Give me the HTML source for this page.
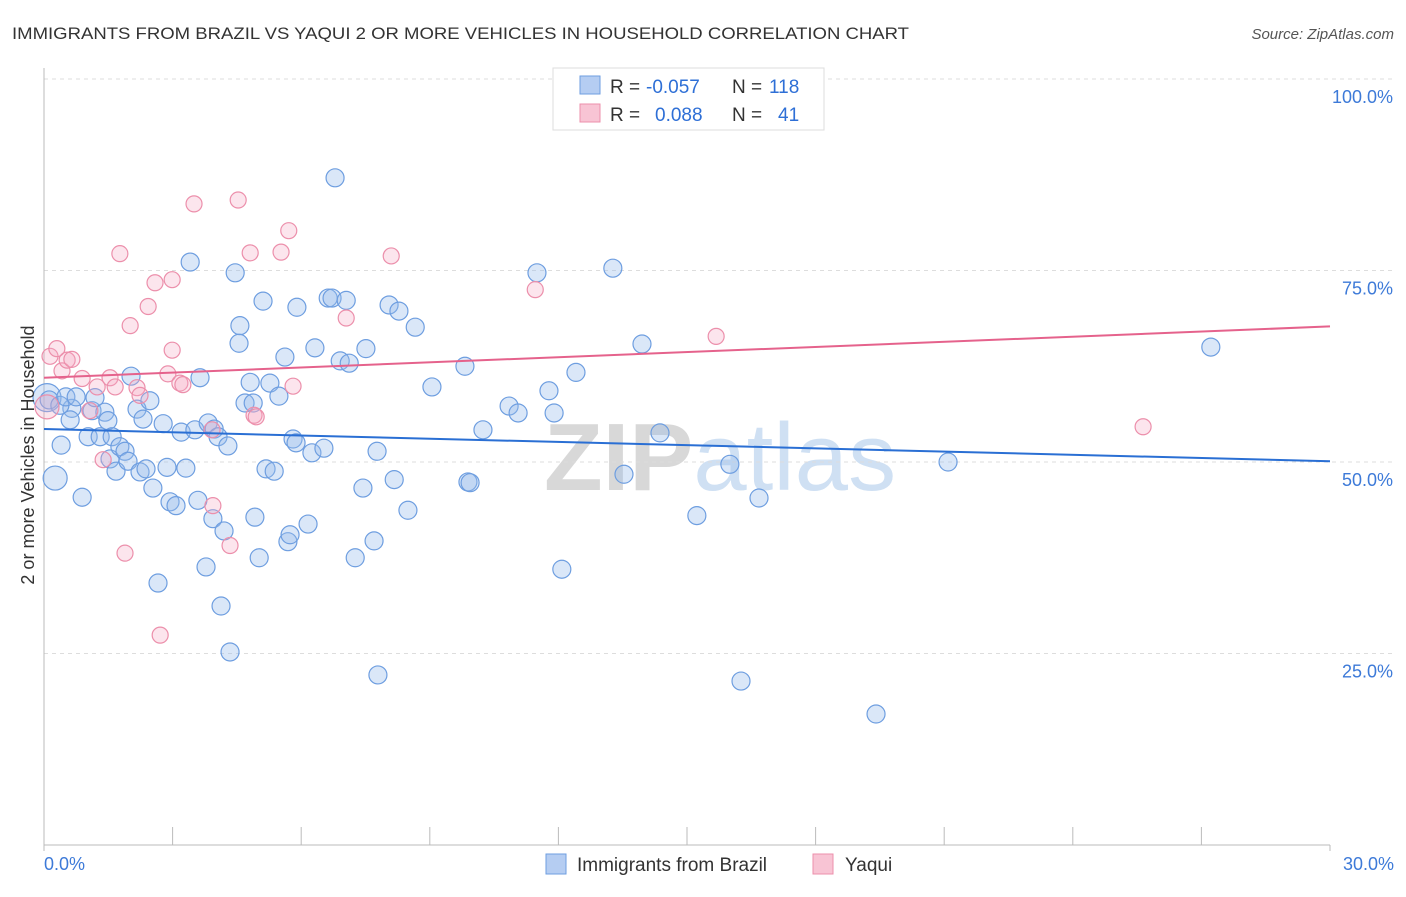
<!DOCTYPE html>
<html><head><meta charset="utf-8"><style>
body{margin:0;background:#fff;font-family:"Liberation Sans",sans-serif;}
svg text{font-family:"Liberation Sans",sans-serif;}
</style></head><body>
<svg id="c" width="1406" height="892">
<text x="12" y="39" font-size="17" fill="#333" textLength="897" lengthAdjust="spacingAndGlyphs">IMMIGRANTS FROM BRAZIL VS YAQUI 2 OR MORE VEHICLES IN HOUSEHOLD CORRELATION CHART</text>
<text x="1394" y="39" font-size="15" fill="#555" font-style="italic" text-anchor="end">Source: ZipAtlas.com</text>
<text x="720" y="490" font-size="96" fill="#ddd" text-anchor="middle" font-family="Liberation Serif" font-weight="bold"><tspan fill="#d8d8d8">ZIP</tspan><tspan fill="#cfe0f3" font-family="Liberation Sans" font-weight="normal">atlas</tspan></text>
<g id="grid"></g><g id="pts"></g><g id="lines"></g>
<text transform="translate(34,455) rotate(-90)" font-size="18" fill="#333" text-anchor="middle">2 or more Vehicles in Household</text>
<g>
<rect x="553" y="68" width="271" height="62" fill="#fff" stroke="#ddd"/>
<rect x="580" y="76" width="20" height="18" fill="#b5cdf2" stroke="#6e9ee0"/>
<rect x="580" y="104" width="20" height="18" fill="#f8c4d4" stroke="#ec8fab"/>
<text x="610" y="93" font-size="19" fill="#333">R =</text>
<text x="646" y="93" font-size="19" fill="#2e6fd6">-0.057</text>
<text x="732" y="93" font-size="19" fill="#333">N =</text>
<text x="769" y="93" font-size="19" fill="#2e6fd6">118</text>
<text x="610" y="121" font-size="19" fill="#333">R =</text>
<text x="655" y="121" font-size="19" fill="#2e6fd6">0.088</text>
<text x="732" y="121" font-size="19" fill="#333">N =</text>
<text x="778" y="121" font-size="19" fill="#2e6fd6">41</text>
</g>
<g>
<rect x="546" y="854" width="20" height="20" fill="#b5cdf2" stroke="#6e9ee0"/>
<text x="577" y="871" font-size="19" fill="#333">Immigrants from Brazil</text>
<rect x="813" y="854" width="20" height="20" fill="#f8c4d4" stroke="#ec8fab"/>
<text x="845" y="871" font-size="19" fill="#333">Yaqui</text>
</g>
</svg>
<script>
const yTicks=[25,50,75,100];
const xTickLabels=["0.0%","30.0%"];
const blueX=[0.07,0.26,0.40,0.65,0.61,0.89,1.03,1.12,1.19,1.31,1.42,1.49,1.54,1.59,1.68,1.77,1.89,1.96,2.03,2.17,2.24,2.31,2.38,2.47,2.54,2.66,2.78,2.87,2.94,3.08,3.20,3.31,3.41,3.52,3.59,3.64,3.78,3.83,3.94,3.97,4.06,4.13,4.20,4.29,4.34,4.46,4.57,4.55,4.69,4.81,4.88,4.92,5.02,5.11,5.18,5.27,5.37,5.48,5.62,5.69,5.74,5.81,5.88,5.90,6.16,6.25,6.32,6.53,6.63,6.72,6.79,6.91,7.05,7.12,7.26,7.44,7.51,7.70,7.77,7.79,8.05,8.17,8.28,8.49,8.66,9.05,9.82,9.89,9.94,10.24,10.85,11.06,11.50,11.78,11.90,12.08,12.41,13.27,13.53,13.95,14.37,15.23,16.00,16.26,16.68,19.41,21.09,27.22,0.12,0.37,0.51,0.75];
const blueY=[58.4,47.9,52.2,57.0,55.5,45.4,53.3,56.7,58.4,53.3,56.5,55.4,50.4,53.3,48.8,52.0,51.4,50.1,61.2,56.9,48.7,55.6,49.1,58.0,46.6,34.2,55.0,49.3,44.8,44.3,53.9,49.2,76.1,54.2,45.0,61.0,36.3,55.1,42.6,54.3,53.3,31.2,41.0,52.1,25.2,74.7,67.8,65.5,57.7,60.4,57.7,42.8,37.5,71.0,49.1,60.3,48.8,58.6,63.7,39.6,40.5,53.0,52.5,70.2,41.9,51.2,64.9,51.8,71.4,71.4,87.1,63.2,71.1,62.9,37.5,46.6,64.8,39.7,51.4,22.2,70.5,47.7,69.7,43.7,67.6,59.8,62.5,47.4,47.3,54.2,57.3,56.4,74.7,59.3,56.4,36.0,61.7,75.3,48.4,65.4,53.8,43.0,49.7,21.4,45.3,17.1,50.0,65.0,58.1,57.4,58.5,58.5];
const pinkX=[0.07,0.14,0.30,0.42,0.54,0.65,0.89,1.07,1.24,1.38,1.54,1.66,1.77,1.89,2.01,2.17,2.24,2.43,2.59,2.71,2.89,2.99,2.99,3.17,3.24,3.50,3.92,3.94,4.34,4.53,4.81,4.90,4.95,5.53,5.71,5.81,7.05,8.10,11.46,15.68,25.64];
const pinkY=[57.2,63.8,64.8,61.9,63.3,63.4,60.9,56.7,59.8,50.3,61.0,59.8,77.2,38.1,67.8,59.7,58.7,70.3,73.4,27.4,61.5,73.8,64.6,60.3,60.1,83.7,54.2,44.3,39.1,84.2,77.3,56.1,55.9,77.4,80.2,59.9,68.8,76.9,72.5,66.4,54.6];
const blueLine=[54.3,50.1];
const pinkLine=[61.0,67.7];
const X0=44,X1=1330,Y0=845,Y100=79;
const xs=v=>X0+v/30*(X1-X0), ys=v=>Y0-v/100*(Y0-Y100);
const NS="http://www.w3.org/2000/svg";
function mk(t,a,p){const e=document.createElementNS(NS,t);for(const k in a)e.setAttribute(k,a[k]);p.appendChild(e);return e;}
const g=document.getElementById('grid');
yTicks.forEach(t=>{
 const l=mk('line',{x1:X0,x2:1394,y1:ys(t),y2:ys(t),stroke:'#ddd','stroke-dasharray':'4,4'},g);
 
 
 const tx=mk('text',{x:1393,y:ys(t)+24,'font-size':18,fill:'#3d7ad8','text-anchor':'end'},g);
 tx.textContent=t.toFixed(1)+'%';
 
 
});
mk('line',{x1:X0,x2:X0,y1:68,y2:Y0,stroke:'#bbb'},g);
mk('line',{x1:X0,x2:X1,y1:Y0,y2:Y0,stroke:'#bbb'},g);
for(let i=0;i<=10;i++){const x=X0+i*(X1-X0)/10;mk('line',{x1:x,x2:x,y1:Y0,y2:i%10==0?Y0+6:827,stroke:'#bbb'},g);}
const a0=mk('text',{x:44,y:870,'font-size':18,fill:'#3d7ad8'},g);a0.textContent=xTickLabels[0];


const a1=mk('text',{x:1394,y:870,'font-size':18,fill:'#3d7ad8','text-anchor':'end'},g);a1.textContent=xTickLabels[1];


const p=document.getElementById('pts');
blueX.forEach((v,i)=>{const c=mk('circle',{cx:xs(v),cy:ys(blueY[i]),r:i==0?14:(i==1?12:9),fill:'rgba(150,185,235,0.35)',stroke:'#6e9ee0','stroke-width':1.2},p);
 
 });
pinkX.forEach((v,i)=>{const c=mk('circle',{cx:xs(v),cy:ys(pinkY[i]),r:i==0?12:8,fill:'rgba(245,170,195,0.3)',stroke:'#ec8fab','stroke-width':1.2},p);
 
 });
const L=document.getElementById('lines');
const bl=mk('line',{x1:xs(0),x2:xs(30),y1:ys(blueLine[0]),y2:ys(blueLine[1]),stroke:'#2a6fd4','stroke-width':2},L);


const pl=mk('line',{x1:xs(0),x2:xs(30),y1:ys(pinkLine[0]),y2:ys(pinkLine[1]),stroke:'#e5628c','stroke-width':2},L);


</script>
</body></html>
